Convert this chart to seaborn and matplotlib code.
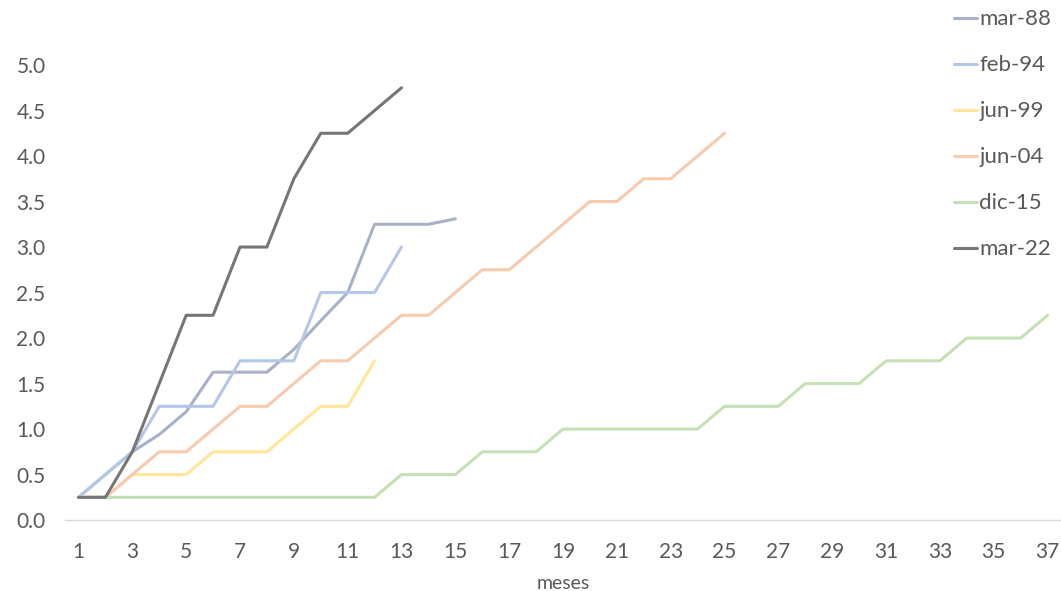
import numpy as np
import pandas as pd
import seaborn as sns
import matplotlib.pyplot as plt

# cumulative values per month for each cycle
meses = list(range(1, 38))
series = ['mar-88', 'feb-94', 'jun-99', 'jun-04', 'dic-15', 'mar-22']
mar_88 = [0.25, 0.5, 0.75, 0.94, 1.19, 1.625, 1.625, 1.625, 1.875, 2.19, 2.5, 3.25, 3.25, 3.25, 3.31]
feb_94 = [0.25, 0.5, 0.75, 1.25, 1.25, 1.25, 1.75, 1.75, 1.75, 2.5, 2.5, 2.5, 3.0]
jun_99 = [0.25, 0.25, 0.5, 0.5, 0.5, 0.75, 0.75, 0.75, 1.0, 1.25, 1.25, 1.75]
jun_04 = [0.25, 0.25, 0.5, 0.75, 0.75, 1.0, 1.25, 1.25, 1.5, 1.75, 1.75, 2.0, 2.25,
          2.25, 2.5, 2.75, 2.75, 3.0, 3.25, 3.5, 3.5, 3.75, 3.75, 4.0, 4.25]
dic_15 = [0.25, 0.25, 0.25, 0.25, 0.25, 0.25, 0.25, 0.25, 0.25, 0.25, 0.25, 0.25, 0.5,
          0.5, 0.5, 0.75, 0.75, 0.75, 1.0, 1.0, 1.0, 1.0, 1.0, 1.0, 1.25, 1.25, 1.25,
          1.5, 1.5, 1.5, 1.75, 1.75, 1.75, 2.0, 2.0, 2.0, 2.25]
mar_22 = [0.25, 0.25, 0.75, 1.5, 2.25, 2.25, 3.0, 3.0, 3.75, 4.25, 4.25, 4.5, 4.75]
colors = ['#A7B1C7', '#B4C7E7', '#FFE699', '#F8CBAD', '#C5E0B4', '#767676']

rows = []
for name, vals in zip(series, [mar_88, feb_94, jun_99, jun_04, dic_15, mar_22]):
    for m, v in zip(meses, vals):
        rows.append({'mes': m, 'valor': v, 'serie': name})
df = pd.DataFrame(rows)

sns.set_style('white')
plt.rcParams['font.family'] = ['Lato', 'DejaVu Sans']
txt = '#595959'

fig = plt.figure(figsize=(10.61, 5.91), dpi=100)
ax = fig.add_axes([0.0613, 0.120, 0.9387, 0.770])
sns.lineplot(data=df, x='mes', y='valor', hue='serie', hue_order=series,
             palette=colors, linewidth=2.2, ax=ax, legend=True)

ax.set_xlim(0.5, 37.5)
ax.set_ylim(0, 5.0)
ax.set_xticks(range(1, 38, 2))
ax.set_xticks(np.arange(0.5, 38, 1), minor=True)
ax.set_yticks(np.arange(0, 5.01, 0.5))
ax.set_yticklabels([f'{v:.1f}' for v in np.arange(0, 5.01, 0.5)])
ax.tick_params(axis='x', which='major', length=0, labelsize=15, labelcolor=txt, pad=16)
ax.tick_params(axis='x', which='minor', length=7, color='#D9D9D9', width=1, direction='out')
ax.tick_params(axis='y', length=0, labelsize=15, labelcolor=txt, pad=14)
for s in ['top', 'right', 'left']:
    ax.spines[s].set_visible(False)
ax.spines['bottom'].set_color('#D9D9D9')
ax.spines['bottom'].set_linewidth(1)
ax.set_xlabel('meses', fontsize=14, color=txt, labelpad=9)
ax.set_ylabel('')

leg = ax.legend(loc='upper left', bbox_to_anchor=(0.899, 0.984), bbox_transform=fig.transFigure,
                frameon=False, borderpad=0, borderaxespad=0,
                fontsize=16, handlelength=1.05, handletextpad=0.1, labelspacing=1.17)
for t in leg.get_texts():
    t.set_color(txt)

fig.savefig('out.png', dpi=100)
